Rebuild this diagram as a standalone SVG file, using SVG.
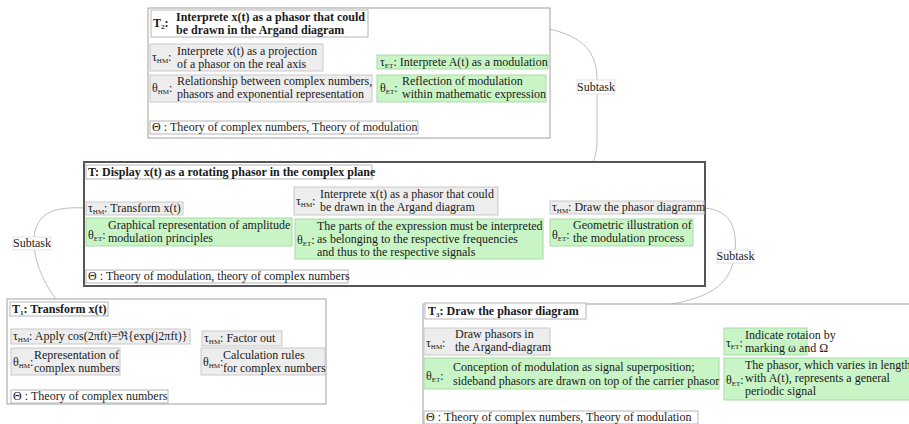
<svg xmlns="http://www.w3.org/2000/svg" width="909" height="424" viewBox="0 0 909 424">
<style>
text{font-family:"Liberation Serif","Times New Roman",serif;font-size:12px;fill:#1a1a1a}
.b{font-weight:bold;font-size:12px}
.s{font-size:7px}
.gr{fill:#ededed;stroke:#c9c9c9;stroke-width:1}
.gn{fill:#c9f5c6;stroke:#a6dba3;stroke-width:1}
.tt{fill:#fff;stroke:#b5b5b5;stroke-width:1}
.ob{fill:#fff;stroke:#a0a0a0;stroke-width:1}
.con{fill:none;stroke:#bdbdbd;stroke-width:1}
.lb{fill:#fff;stroke:#e2e2e2;stroke-width:1}
.c{text-anchor:middle}
</style>
<g id="connectors">
<path class="con" d="M368,22 C545,18 597,25 597,80 L597,140 C597,180 570,190 498,199"/>
<path class="con" d="M86,208 C50,206 36,215 34,238 C33,262 45,285 58,302"/>
<path class="con" d="M704,208 C735,210 738,235 734,258 C728,290 705,308 586,312"/>
<rect class="lb" x="577" y="80" width="38" height="14"/>
<text class="c" x="596" y="91">Subtask</text>
<rect class="lb" x="13" y="237" width="38" height="13"/>
<text class="c" x="32" y="247">Subtask</text>
<rect class="lb" x="717" y="250" width="37" height="13"/>
<text class="c" x="735.5" y="260">Subtask</text>
</g>
<g id="T2">
<rect class="ob" x="148" y="8" width="402" height="130"/>
<rect class="tt" x="151" y="10" width="217" height="27"/>
<text class="b" x="153" y="27">T<tspan class="s" dy="2">2</tspan><tspan dy="-2">:</tspan></text>
<text class="b" x="176" y="21">Interprete x(t) as a phasor that could</text>
<text class="b" x="176" y="34">be drawn in the Argand diagram</text>
<rect class="gr" x="150" y="44" width="173" height="27"/>
<text x="152" y="61">τ<tspan class="s" dy="2">HM</tspan><tspan dy="-2">:</tspan></text>
<text x="177" y="55">Interprete x(t) as a projection</text>
<text x="177" y="68">of a phasor on the real axis</text>
<rect class="gr" x="150" y="75" width="222" height="27"/>
<text x="152" y="92">θ<tspan class="s" dy="2">HM</tspan><tspan dy="-2">:</tspan></text>
<text x="177" y="85">Relationship between complex numbers,</text>
<text x="177" y="98">phasors and exponential representation</text>
<rect class="gn" x="377" y="55" width="171" height="14"/>
<text x="380" y="66">τ<tspan class="s" dy="2">ET</tspan><tspan dy="-2">: Interprete A(t) as a modulation</tspan></text>
<rect class="gn" x="377" y="75" width="169" height="27"/>
<text x="380" y="92">θ<tspan class="s" dy="2">ET</tspan><tspan dy="-2">:</tspan></text>
<text x="402" y="85">Reflection of modulation</text>
<text x="402" y="98">within mathematic expression</text>
<rect class="tt" x="150" y="121" width="268" height="13"/>
<text x="152" y="131">Θ : Theory of complex numbers, Theory of modulation</text>
</g>
<g id="T">
<rect x="84" y="162" width="621" height="124" fill="#fff" stroke="#555" stroke-width="2"/>
<rect class="tt" x="86" y="165" width="286" height="14"/>
<text class="b" x="88" y="176">T: Display x(t) as a rotating phasor in the complex plane</text>
<rect class="gr" x="86" y="202" width="97" height="13"/>
<text x="88" y="212">τ<tspan class="s" dy="2">HM</tspan><tspan dy="-2">: Transform x(t)</tspan></text>
<rect class="gn" x="86" y="218" width="206" height="28"/>
<text x="88" y="239">θ<tspan class="s" dy="2">ET</tspan><tspan dy="-2">:</tspan></text>
<text x="108" y="229">Graphical representation of amplitude</text>
<text x="108" y="242">modulation principles</text>
<rect class="tt" x="86" y="270" width="262" height="13"/>
<text x="88" y="280">Θ : Theory of modulation, theory of complex numbers</text>
<rect class="gr" x="294" y="187" width="204" height="28"/>
<text x="296" y="205">τ<tspan class="s" dy="2">HM</tspan><tspan dy="-2">:</tspan></text>
<text x="320" y="198">Interprete x(t) as a phasor that could</text>
<text x="320" y="211">be drawn in the Argand diagram</text>
<rect class="gn" x="295" y="219" width="248" height="40"/>
<text x="297" y="244">θ<tspan class="s" dy="2">ET</tspan><tspan dy="-2">:</tspan></text>
<text x="317" y="230">The parts of the expression must be interpreted</text>
<text x="317" y="243">as belonging to the respective frequencies</text>
<text x="317" y="256">and thus to the respective signals</text>
<rect class="gr" x="550" y="201" width="154" height="13"/>
<text x="552" y="211">τ<tspan class="s" dy="2">HM</tspan><tspan dy="-2">: Draw the phasor diagramm</tspan></text>
<rect class="gn" x="550" y="219" width="143" height="27"/>
<text x="552" y="239">θ<tspan class="s" dy="2">ET</tspan><tspan dy="-2">:</tspan></text>
<text x="573" y="229">Geometric illustration of</text>
<text x="573" y="242">the modulation process</text>
</g>
<g id="T1">
<rect class="ob" x="7" y="299" width="319" height="105"/>
<rect class="tt" x="10" y="302" width="98" height="14"/>
<text class="b" x="12" y="313">T<tspan class="s" dy="2">1</tspan><tspan dy="-2">: Transform x(t)</tspan></text>
<rect class="gr" x="11" y="329" width="179" height="15"/>
<text x="13" y="340">τ<tspan class="s" dy="2">HM</tspan><tspan dy="-2">: Apply cos(2πft)=ℜ{exp(j2πft)}</tspan></text>
<rect class="gr" x="11" y="348" width="109" height="27"/>
<text x="13" y="366">θ<tspan class="s" dy="2">HM</tspan><tspan dy="-2">:</tspan></text>
<text x="34" y="359">Representation of</text>
<text x="34" y="372">complex numbers</text>
<rect class="gr" x="202" y="331" width="80" height="15"/>
<text x="204" y="342">τ<tspan class="s" dy="2">HM</tspan><tspan dy="-2">: Factor out</tspan></text>
<rect class="gr" x="201" y="348" width="124" height="27"/>
<text x="203" y="366">θ<tspan class="s" dy="2">HM</tspan><tspan dy="-2">:</tspan></text>
<text x="223" y="359">Calculation rules</text>
<text x="223" y="372">for complex numbers</text>
<rect class="tt" x="11" y="390" width="157" height="13"/>
<text x="13" y="400">Θ : Theory of complex numbers</text>
</g>
<g id="T3">
<rect class="ob" x="423" y="304" width="492" height="125"/>
<rect class="tt" x="425" y="303" width="161" height="16"/>
<text class="b" x="428" y="315">T<tspan class="s" dy="2">3</tspan><tspan dy="-2">:  Draw the phasor diagram</tspan></text>
<rect class="gr" x="424" y="328" width="126" height="27"/>
<text x="426" y="347">τ<tspan class="s" dy="2">HM</tspan><tspan dy="-2">:</tspan></text>
<text x="455" y="338">Draw phasors in</text>
<text x="455" y="351">the Argand-diagram</text>
<rect class="gn" x="424" y="358" width="295" height="31"/>
<text x="426" y="380">θ<tspan class="s" dy="2">ET</tspan><tspan dy="-2">:</tspan></text>
<text x="453" y="371">Conception of modulation as signal superposition;</text>
<text x="453" y="385">sideband phasors are drawn on top of the carrier phasor</text>
<rect class="gn" x="724" y="328" width="83" height="27"/>
<text x="726" y="347">τ<tspan class="s" dy="2">ET</tspan><tspan dy="-2">:</tspan></text>
<text x="745" y="339">Indicate rotaion by</text>
<text x="745" y="352">marking ω and Ω</text>
<rect class="gn" x="724" y="358" width="191" height="42"/>
<text x="726" y="384">θ<tspan class="s" dy="2">ET</tspan><tspan dy="-2">:</tspan></text>
<text x="745" y="369">The phasor, which varies in length</text>
<text x="745" y="382">with A(t), represents a general</text>
<text x="745" y="395">periodic signal</text>
<rect class="tt" x="424" y="411" width="274" height="13"/>
<text x="426" y="421">Θ : Theory of complex numbers, Theory of modulation</text>
</g>
</svg>
